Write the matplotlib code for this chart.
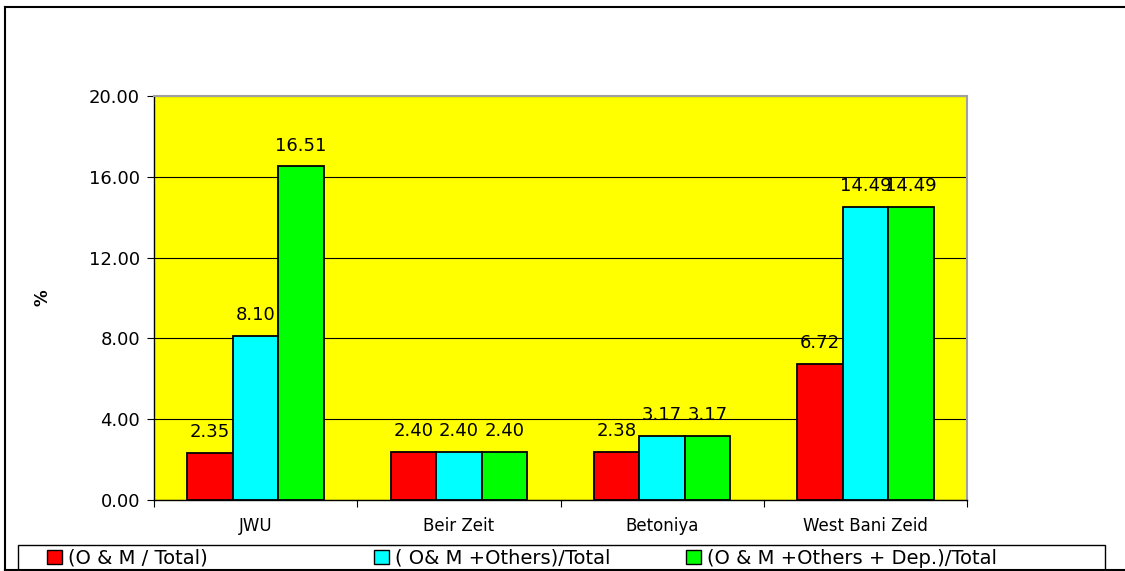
import matplotlib
matplotlib.use("Agg")
import matplotlib.pyplot as plt
import numpy as np
from matplotlib.patches import Rectangle, Patch
from matplotlib.lines import Line2D

categories = ["JWU", "Beir Zeit", "Betoniya", "West Bani Zeid"]
series_names = ["(O & M / Total)", "( O& M +Others)/Total", "(O & M +Others + Dep.)/Total"]
om_total = [2.35, 2.40, 2.38, 6.72]
om_others_total = [8.10, 2.40, 3.17, 14.49]
om_others_dep_total = [16.51, 2.40, 3.17, 14.49]
yticks = [0, 4, 8, 12, 16, 20]
colors = ["#FF0000", "#00FFFF", "#00FF00"]

plt.rcParams['font.family'] = ['DejaVu Sans']

W, H = 1125, 571
fig = plt.figure(figsize=(W / 100, H / 100), dpi=100)
ax = fig.add_axes([154 / W, 71 / H, 813 / W, 404 / H])
ax.set_facecolor("#FFFF00")

x = np.arange(len(categories))
bw = 0.224
series = [om_total, om_others_total, om_others_dep_total]
for i, (vals, col, name) in enumerate(zip(series, colors, series_names)):
    pos = x + (i - 1) * bw
    ax.bar(pos, vals, width=bw, color=col, edgecolor="black", linewidth=1.3, label=name, zorder=3)
    for px, v in zip(pos, vals):
        ax.annotate(f"{v:.2f}", (px, v), xytext=(0, 11.5), textcoords="offset points",
                    ha="center", va="baseline", fontsize=13, color="black", zorder=5)

ax.set_xlim(-0.5, len(categories) - 0.5)
ax.set_ylim(0, 20)
ax.set_yticks(yticks)
ax.set_yticklabels([f"{t:.2f}" for t in yticks], fontsize=13)
ax.yaxis.grid(True, color="black", linewidth=0.8, zorder=0)
ax.set_axisbelow(True)
ax.set_xticks(x)
ax.set_xticklabels(categories, fontsize=12)
ax.tick_params(axis="x", length=0, pad=12)
ax.set_xticks(np.arange(len(categories) + 1) - 0.5, minor=True)
ax.tick_params(axis="x", which="minor", length=5, direction="out", width=0.8)
ax.tick_params(axis="y", length=5, direction="out", width=0.8, pad=5)
ax.set_ylabel("%", fontsize=12, fontweight="bold")
ax.yaxis.set_label_coords(-0.126, 0.5)

for s in ["left", "bottom"]:
    ax.spines[s].set_color("black")
    ax.spines[s].set_linewidth(1.0)
for s in ["top", "right"]:
    ax.spines[s].set_color("#A0A0A0")
    ax.spines[s].set_linewidth(1.5)

# outer frame (left, top, bottom edges)
def px2f(xp, yp):
    return xp / W, 1 - yp / H

for (x0, y0), (x1, y1) in [((5, 7), (5, 571)), ((5, 7), (1125, 7)), ((5, 570), (1125, 570))]:
    a, b = px2f(x0, y0)
    c, d = px2f(x1, y1)
    fig.add_artist(Line2D([a, c], [b, d], transform=fig.transFigure, color="black", linewidth=1.5))

# legend box
lx0, lx1, ly0 = 18, 1105, 545
fig.patches.append(Rectangle((lx0 / W, 1 - 580 / H), (lx1 - lx0) / W, (580 - ly0) / H,
                             transform=fig.transFigure, facecolor="white",
                             edgecolor="black", linewidth=1.0, zorder=1))

entry_x = [47, 374, 686]
for name, col, ex in zip(series_names, colors, entry_x):
    h = Patch(facecolor=col, edgecolor="black", linewidth=1.0)
    leg = fig.legend([h], [name], loc="center left", bbox_to_anchor=(ex / W, 1 - 558.5 / H),
                     fontsize=14, frameon=False, handlelength=0.75, handleheight=0.75,
                     handletextpad=0.35, borderpad=0, borderaxespad=0)
    leg.set_zorder(3)

fig.savefig("out.png", dpi=100, facecolor="white")
